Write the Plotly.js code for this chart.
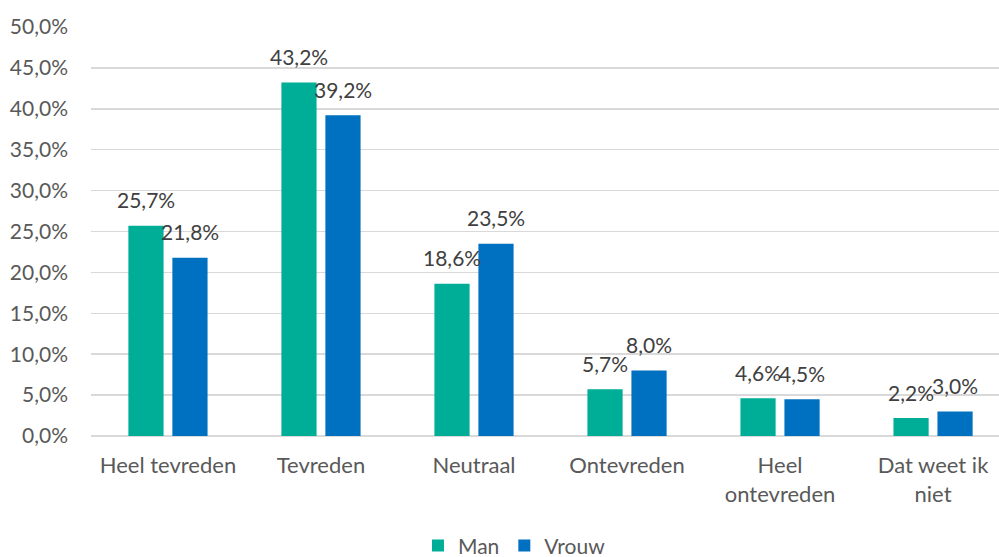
<!DOCTYPE html>
<html>
<head>
<meta charset="utf-8">
<script src="https://cdn.plot.ly/plotly-3.0.1.min.js"></script>
<style>
  html, body { margin: 0; padding: 0; background: #fff; }
  #chart { width: 999px; height: 557px; }
</style>
</head>
<body>
<div id="chart"></div>
<script>
const categories = ['Heel tevreden', 'Tevreden', 'Neutraal', 'Ontevreden', 'Heel<br>ontevreden', 'Dat weet ik<br>niet'];
const man = [25.7, 43.2, 18.6, 5.7, 4.6, 2.2];
const vrouw = [21.8, 39.2, 23.5, 8.0, 4.5, 3.0];

function pct(v) {
    return v.toFixed(1).replace('.', ',') + '%';
}

const font = 'Lato, "Open Sans", sans-serif';

let traces = [
    {
        type: 'bar',
        name: 'Man',
        x: categories,
        y: man,
        marker: {color: '#00AE98'},
        hoverinfo: 'none'
    },
    {
        type: 'bar',
        name: 'Vrouw',
        x: categories,
        y: vrouw,
        marker: {color: '#0070C0'},
        hoverinfo: 'none'
    }
];

// labels above each bar, shifted onto the left / right bar of the group
let annotations = [];
[[man, -22], [vrouw, 22]].forEach(function(s) {
    s[0].forEach(function(v, i) {
        annotations.push({
            x: categories[i],
            y: v,
            xref: 'x',
            yref: 'y',
            text: pct(v),
            showarrow: false,
            xshift: s[1],
            yshift: 26,
            yanchor: 'middle',
            font: {family: font, size: 21, color: '#404040'}
        });
    });
});

let layout = {
    width: 999,
    height: 557,
    margin: {l: 91, r: 0, t: 27, b: 121},
    paper_bgcolor: '#ffffff',
    plot_bgcolor: '#ffffff',
    barmode: 'group',
    bargap: 0.425,
    bargroupgap: 0.2,
    font: {family: font, size: 21, color: '#595959'},
    xaxis: {
        range: [-0.503, 5.431],
        showgrid: false,
        showline: false,
        ticks: '',
        ticklabelstandoff: 14,
        tickfont: {family: font, size: 22, color: '#595959'}
    },
    yaxis: {
        range: [0, 50],
        tickvals: [0, 5, 10, 15, 20, 25, 30, 35, 40, 45, 50],
        ticktext: [0, 5, 10, 15, 20, 25, 30, 35, 40, 45, 50].map(pct),
        showgrid: true,
        gridcolor: '#D9D9D9',
        gridwidth: 1.5,
        zeroline: true,
        zerolinecolor: '#D9D9D9',
        zerolinewidth: 1.5,
        showline: false,
        ticks: '',
        ticklabelstandoff: 22,
        tickfont: {family: font, size: 21, color: '#595959'}
    },
    showlegend: true,
    legend: {
        orientation: 'h',
        xref: 'container',
        yref: 'container',
        x: 0.515,
        xanchor: 'center',
        y: 0.02,
        yanchor: 'middle',
        font: {family: font, size: 21, color: '#595959'},
        itemwidth: 30
    },
    annotations: annotations
};

Plotly.newPlot('chart', traces, layout, {displayModeBar: false, staticPlot: true});
</script>
</body>
</html>
